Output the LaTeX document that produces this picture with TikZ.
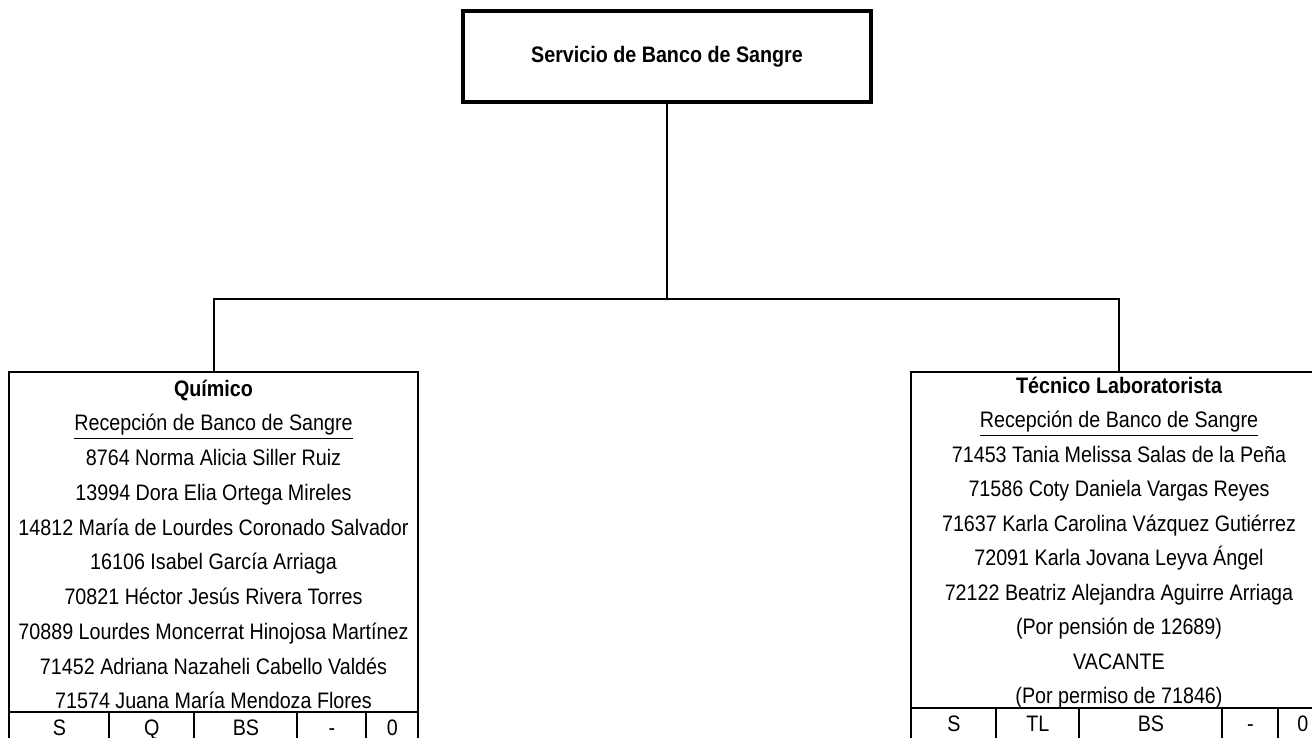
\documentclass[tikz,border=0pt]{standalone}
\usepackage{fontspec}
\setmainfont{Liberation Sans}[FakeStretch=0.88]
\usepackage{tikz}
\usetikzlibrary{matrix}

\begin{document}
\begin{tikzpicture}[x=0.5pt,y=-0.5pt,
    puesto/.style={rectangle,draw,line width=1pt,minimum width=#1,minimum height=186pt,
        inner sep=0pt,outer sep=0pt,anchor=north},
    renglon/.style={anchor=base,inner sep=0pt,font=\fontsize{11.2}{13}\selectfont},
    claves/.style={matrix of nodes,inner sep=0pt,anchor=north west,column sep=-1pt,
        nodes={rectangle,draw,line width=1pt,outer sep=0pt,inner sep=0pt,minimum height=16pt,
            text height=8pt,text depth=1pt,font=\fontsize{11.2}{13}\selectfont}}]

    \clip (0,0) rectangle (1312,738);

    \node (servicio) [rectangle,draw,line width=1.6pt,minimum width=204pt,minimum height=45.5pt,
        font=\bfseries\fontsize{11.2}{13}\selectfont] at (667,56.5) {Servicio de Banco de Sangre};

    \node (quimico) [puesto=204.5pt] at (213.5,372) {};
    \node (tecnico) [puesto=208pt] at (1119,372) {};

    \coordinate (bus) at (667,299);
    \draw[line width=1pt] (servicio.south) -- (bus) -| (quimico.north);
    \draw[line width=1pt] (bus) -| (tecnico.north);

    % personal de cada puesto
    \foreach \linea [count=\k from 0] in {{\bfseries Químico},
        {\underline{Recepción de Banco de Sangre}},
        8764 Norma Alicia Siller Ruiz,
        13994 Dora Elia Ortega Mireles,
        14812 María de Lourdes Coronado Salvador,
        16106 Isabel García Arriaga,
        70821 Héctor Jesús Rivera Torres,
        70889 Lourdes Moncerrat Hinojosa Martínez,
        71452 Adriana Nazaheli Cabello Valdés,
        71574 Juana María Mendoza Flores}
        \node (q\k) [renglon] at (213.5,396+34.75*\k) {\linea};

    \foreach \linea [count=\k from 0] in {{\bfseries Técnico Laboratorista},
        {\underline{Recepción de Banco de Sangre}},
        71453 Tania Melissa Salas de la Peña,
        71586 Coty Daniela Vargas Reyes,
        71637 Karla Carolina Vázquez Gutiérrez,
        72091 Karla Jovana Leyva Ángel,
        72122 Beatriz Alejandra Aguirre Arriaga,
        (Por pensión de 12689),
        VACANTE,
        (Por permiso de 71846)}
        \node (t\k) [renglon] at (1119,393+34.5*\k) {\linea};

    \matrix (clavesq) [claves,
        column 1/.style={nodes={minimum width=50pt}},
        column 2/.style={nodes={minimum width=42.5pt}},
        column 3/.style={nodes={minimum width=51.5pt}},
        column 4/.style={nodes={minimum width=34.5pt}},
        column 5/.style={nodes={minimum width=26pt}}] at (8,711) {
            S & Q & BS & - & 0 \\
    };
    \matrix (clavest) [claves,
        column 1/.style={nodes={minimum width=42.5pt}},
        column 2/.style={nodes={minimum width=41.5pt}},
        column 3/.style={nodes={minimum width=71.5pt}},
        column 4/.style={nodes={minimum width=28pt}},
        column 5/.style={nodes={minimum width=24.5pt}}] at (910,707) {
            S & TL & BS & - & 0 \\
    };
\end{tikzpicture}
\end{document}
